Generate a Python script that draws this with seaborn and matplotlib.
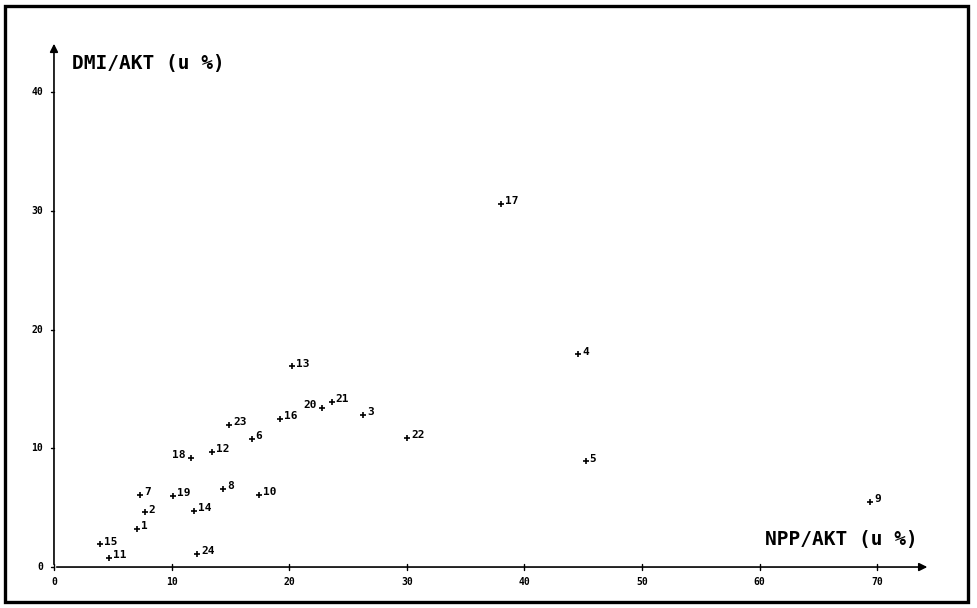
import matplotlib
matplotlib.use('Agg')
import matplotlib.pyplot as plt
from matplotlib.patches import Rectangle
import seaborn as sns
import pandas as pd

sns.set_style("white")
plt.rcParams['font.family'] = ['DejaVu Sans Mono']
plt.rcParams['text.color'] = 'black'

# == data (NPP/AKT vs DMI/AKT, both in %)
labels = ['1', '2', '3', '4', '5', '6', '7', '8', '9', '10', '11', '12',
          '13', '14', '15', '16', '17', '18', '19', '20', '21', '22', '23', '24']
npp = [7.05, 7.7, 26.3, 44.6, 45.2, 16.8, 7.3, 14.4, 69.4, 17.4, 4.7, 13.4,
       20.2, 11.9, 3.9, 19.2, 38.0, 11.65, 10.1, 22.8, 23.6, 30.0, 14.9, 12.2]
dmi = [3.2, 4.6, 12.8, 17.9, 8.9, 10.8, 6.1, 6.6, 5.5, 6.05, 0.75, 9.7,
       16.9, 4.7, 1.9, 12.5, 30.6, 9.2, 6.0, 13.4, 13.9, 10.9, 12.0, 1.1]
left_labels = ['18', '20']   # labels written to the left of their point

xticks = [0, 10, 20, 30, 40, 50, 60, 70]
yticks = [0, 10, 20, 30, 40]

df = pd.DataFrame({'npp': npp, 'dmi': dmi, 'label': labels})

fig = plt.figure(figsize=(9.77, 6.08), dpi=100)
ax = fig.add_axes([0, 0, 1, 1])
ax.set_xlim(-4.59, 78.49)
ax.set_ylim(-3.45, 47.75)
ax.axis('off')

# frame around the whole figure
fig.patches.append(Rectangle((5/977, 6/608), 963/977, 596/608, transform=fig.transFigure,
                             fill=False, lw=2.4, ec='black'))

# == axes with arrows
ax.annotate('', xy=(74.5, 0), xytext=(0, 0),
            arrowprops=dict(arrowstyle='-|>', lw=1.2, color='black', mutation_scale=12))
ax.annotate('', xy=(0, 44.3), xytext=(0, 0),
            arrowprops=dict(arrowstyle='-|>', lw=1.2, color='black', mutation_scale=12))

for t in xticks:
    ax.plot([t, t], [-0.25, 0.25], color='black', lw=1)
    ax.annotate(str(t), (t, 0), xytext=(0, -11), textcoords='offset points',
                ha='center', va='center', fontsize=7, fontweight='bold')
for t in yticks:
    ax.plot([-0.25, 0], [t, t], color='black', lw=1)
    ax.annotate(str(t), (0, t), xytext=(-8, 0), textcoords='offset points',
                ha='right', va='center', fontsize=7, fontweight='bold')

ax.text(72/977, 1 - 64/608, 'DMI/AKT (u %)', transform=fig.transFigure,
        ha='left', va='center', fontsize=14, fontweight='bold')
ax.text(918/977, 1 - 540/608, 'NPP/AKT (u %)', transform=fig.transFigure,
        ha='right', va='center', fontsize=14, fontweight='bold')

# == the points
sns.scatterplot(data=df, x='npp', y='dmi', marker='+', color='black', s=18,
                linewidth=1.2, ax=ax, legend=False)

for _, r in df.iterrows():
    if r['label'] in left_labels:
        ax.annotate(r['label'], (r['npp'], r['dmi']), xytext=(-4, 2), textcoords='offset points',
                    ha='right', va='center', fontsize=8, fontweight='bold')
    else:
        ax.annotate(r['label'], (r['npp'], r['dmi']), xytext=(3, 2), textcoords='offset points',
                    ha='left', va='center', fontsize=8, fontweight='bold')

plt.savefig('out.png', dpi=100)
plt.close()
